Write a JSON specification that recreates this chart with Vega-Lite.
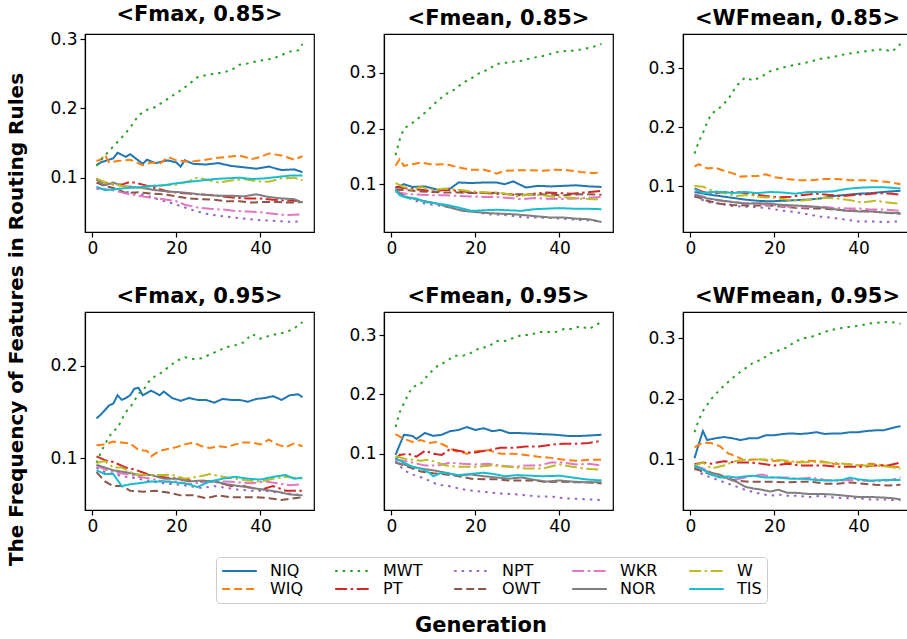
{
"$schema":"https://vega.github.io/schema/vega-lite/v6.json",
"background":"white",
"padding":{"left":7,"top":3,"right":0,"bottom":3},
"title":{"text":"The Frequency of Features in Routing Rules","orient":"left","fontSize":20,"fontWeight":"bold","font":"DejaVu Sans","color":"black","anchor":"middle","offset":22},
"config":{
"font":"DejaVu Sans",
"view":{"stroke":"black","strokeWidth":1.2},
"axis":{"grid":false,"domainColor":"black","domainWidth":1.2,"tickColor":"black","tickWidth":1.2,"tickSize":5,"labelFontSize":17,"labelColor":"black","labelPadding":3,"labelFont":"DejaVu Sans"},
"legend":{"orient":"none","legendX":131,"legendY":523,"direction":"horizontal","columns":5,"columnPadding":30,"rowPadding":0,"clipHeight":18,"strokeColor":"#cccccc","cornerRadius":4,"padding":5,"fillColor":"white","labelFontSize":16,"labelFont":"DejaVu Sans","labelColor":"black","labelOffset":12,"symbolType":"stroke","symbolSize":1200,"symbolStrokeWidth":2}
},
"resolve":{"legend":{"color":"independent","strokeDash":"independent"}},
"data":{"values":[
{"p":"a","s":"NIQ","g":1,"v":0.118},{"p":"a","s":"NIQ","g":2,"v":0.122},{"p":"a","s":"NIQ","g":3,"v":0.124},{"p":"a","s":"NIQ","g":5,"v":0.128},{"p":"a","s":"NIQ","g":6,"v":0.136},{"p":"a","s":"NIQ","g":8,"v":0.13},{"p":"a","s":"NIQ","g":9,"v":0.134},{"p":"a","s":"NIQ","g":12,"v":0.12},{"p":"a","s":"NIQ","g":13,"v":0.126},{"p":"a","s":"NIQ","g":15,"v":0.121},{"p":"a","s":"NIQ","g":18,"v":0.125},{"p":"a","s":"NIQ","g":20,"v":0.122},{"p":"a","s":"NIQ","g":21,"v":0.116},{"p":"a","s":"NIQ","g":22,"v":0.125},{"p":"a","s":"NIQ","g":24,"v":0.12},{"p":"a","s":"NIQ","g":27,"v":0.119},{"p":"a","s":"NIQ","g":30,"v":0.121},{"p":"a","s":"NIQ","g":33,"v":0.117},{"p":"a","s":"NIQ","g":36,"v":0.115},{"p":"a","s":"NIQ","g":39,"v":0.113},{"p":"a","s":"NIQ","g":42,"v":0.116},{"p":"a","s":"NIQ","g":45,"v":0.111},{"p":"a","s":"NIQ","g":48,"v":0.112},{"p":"a","s":"NIQ","g":50,"v":0.108},
{"p":"a","s":"WIQ","g":1,"v":0.124},{"p":"a","s":"WIQ","g":2,"v":0.126},{"p":"a","s":"WIQ","g":3,"v":0.133},{"p":"a","s":"WIQ","g":4,"v":0.122},{"p":"a","s":"WIQ","g":6,"v":0.124},{"p":"a","s":"WIQ","g":9,"v":0.126},{"p":"a","s":"WIQ","g":12,"v":0.118},{"p":"a","s":"WIQ","g":14,"v":0.122},{"p":"a","s":"WIQ","g":16,"v":0.12},{"p":"a","s":"WIQ","g":18,"v":0.13},{"p":"a","s":"WIQ","g":20,"v":0.125},{"p":"a","s":"WIQ","g":23,"v":0.123},{"p":"a","s":"WIQ","g":26,"v":0.125},{"p":"a","s":"WIQ","g":29,"v":0.128},{"p":"a","s":"WIQ","g":32,"v":0.13},{"p":"a","s":"WIQ","g":35,"v":0.132},{"p":"a","s":"WIQ","g":38,"v":0.127},{"p":"a","s":"WIQ","g":40,"v":0.13},{"p":"a","s":"WIQ","g":42,"v":0.135},{"p":"a","s":"WIQ","g":45,"v":0.132},{"p":"a","s":"WIQ","g":48,"v":0.126},{"p":"a","s":"WIQ","g":50,"v":0.131},
{"p":"a","s":"MWT","g":1,"v":0.117},{"p":"a","s":"MWT","g":2,"v":0.125},{"p":"a","s":"MWT","g":3,"v":0.132},{"p":"a","s":"MWT","g":5,"v":0.145},{"p":"a","s":"MWT","g":7,"v":0.158},{"p":"a","s":"MWT","g":9,"v":0.172},{"p":"a","s":"MWT","g":11,"v":0.19},{"p":"a","s":"MWT","g":13,"v":0.198},{"p":"a","s":"MWT","g":15,"v":0.202},{"p":"a","s":"MWT","g":17,"v":0.21},{"p":"a","s":"MWT","g":19,"v":0.218},{"p":"a","s":"MWT","g":21,"v":0.226},{"p":"a","s":"MWT","g":23,"v":0.235},{"p":"a","s":"MWT","g":25,"v":0.245},{"p":"a","s":"MWT","g":27,"v":0.248},{"p":"a","s":"MWT","g":29,"v":0.25},{"p":"a","s":"MWT","g":31,"v":0.252},{"p":"a","s":"MWT","g":33,"v":0.255},{"p":"a","s":"MWT","g":35,"v":0.263},{"p":"a","s":"MWT","g":37,"v":0.265},{"p":"a","s":"MWT","g":39,"v":0.268},{"p":"a","s":"MWT","g":41,"v":0.27},{"p":"a","s":"MWT","g":43,"v":0.272},{"p":"a","s":"MWT","g":45,"v":0.277},{"p":"a","s":"MWT","g":47,"v":0.282},{"p":"a","s":"MWT","g":49,"v":0.284},{"p":"a","s":"MWT","g":50,"v":0.293},
{"p":"a","s":"PT","g":1,"v":0.097},{"p":"a","s":"PT","g":3,"v":0.093},{"p":"a","s":"PT","g":5,"v":0.09},{"p":"a","s":"PT","g":7,"v":0.09},{"p":"a","s":"PT","g":9,"v":0.094},{"p":"a","s":"PT","g":12,"v":0.09},{"p":"a","s":"PT","g":15,"v":0.085},{"p":"a","s":"PT","g":18,"v":0.08},{"p":"a","s":"PT","g":21,"v":0.078},{"p":"a","s":"PT","g":25,"v":0.076},{"p":"a","s":"PT","g":28,"v":0.075},{"p":"a","s":"PT","g":31,"v":0.073},{"p":"a","s":"PT","g":34,"v":0.071},{"p":"a","s":"PT","g":37,"v":0.07},{"p":"a","s":"PT","g":40,"v":0.07},{"p":"a","s":"PT","g":43,"v":0.068},{"p":"a","s":"PT","g":46,"v":0.067},{"p":"a","s":"PT","g":50,"v":0.066},
{"p":"a","s":"NPT","g":1,"v":0.084},{"p":"a","s":"NPT","g":4,"v":0.083},{"p":"a","s":"NPT","g":7,"v":0.08},{"p":"a","s":"NPT","g":10,"v":0.078},{"p":"a","s":"NPT","g":13,"v":0.074},{"p":"a","s":"NPT","g":16,"v":0.068},{"p":"a","s":"NPT","g":19,"v":0.063},{"p":"a","s":"NPT","g":22,"v":0.057},{"p":"a","s":"NPT","g":24,"v":0.053},{"p":"a","s":"NPT","g":27,"v":0.048},{"p":"a","s":"NPT","g":30,"v":0.045},{"p":"a","s":"NPT","g":33,"v":0.043},{"p":"a","s":"NPT","g":36,"v":0.041},{"p":"a","s":"NPT","g":39,"v":0.039},{"p":"a","s":"NPT","g":42,"v":0.038},{"p":"a","s":"NPT","g":45,"v":0.037},{"p":"a","s":"NPT","g":48,"v":0.036},{"p":"a","s":"NPT","g":50,"v":0.038},
{"p":"a","s":"OWT","g":1,"v":0.093},{"p":"a","s":"OWT","g":3,"v":0.088},{"p":"a","s":"OWT","g":5,"v":0.085},{"p":"a","s":"OWT","g":8,"v":0.078},{"p":"a","s":"OWT","g":11,"v":0.079},{"p":"a","s":"OWT","g":14,"v":0.077},{"p":"a","s":"OWT","g":17,"v":0.076},{"p":"a","s":"OWT","g":20,"v":0.073},{"p":"a","s":"OWT","g":23,"v":0.07},{"p":"a","s":"OWT","g":26,"v":0.069},{"p":"a","s":"OWT","g":29,"v":0.068},{"p":"a","s":"OWT","g":32,"v":0.066},{"p":"a","s":"OWT","g":35,"v":0.066},{"p":"a","s":"OWT","g":38,"v":0.064},{"p":"a","s":"OWT","g":41,"v":0.065},{"p":"a","s":"OWT","g":44,"v":0.065},{"p":"a","s":"OWT","g":47,"v":0.064},{"p":"a","s":"OWT","g":50,"v":0.065},
{"p":"a","s":"WKR","g":1,"v":0.085},{"p":"a","s":"WKR","g":3,"v":0.083},{"p":"a","s":"WKR","g":5,"v":0.082},{"p":"a","s":"WKR","g":8,"v":0.077},{"p":"a","s":"WKR","g":11,"v":0.074},{"p":"a","s":"WKR","g":14,"v":0.071},{"p":"a","s":"WKR","g":17,"v":0.069},{"p":"a","s":"WKR","g":20,"v":0.066},{"p":"a","s":"WKR","g":22,"v":0.061},{"p":"a","s":"WKR","g":25,"v":0.057},{"p":"a","s":"WKR","g":28,"v":0.055},{"p":"a","s":"WKR","g":31,"v":0.054},{"p":"a","s":"WKR","g":34,"v":0.052},{"p":"a","s":"WKR","g":37,"v":0.051},{"p":"a","s":"WKR","g":40,"v":0.05},{"p":"a","s":"WKR","g":43,"v":0.048},{"p":"a","s":"WKR","g":46,"v":0.046},{"p":"a","s":"WKR","g":50,"v":0.047},
{"p":"a","s":"NOR","g":1,"v":0.099},{"p":"a","s":"NOR","g":2,"v":0.092},{"p":"a","s":"NOR","g":3,"v":0.089},{"p":"a","s":"NOR","g":5,"v":0.093},{"p":"a","s":"NOR","g":7,"v":0.088},{"p":"a","s":"NOR","g":9,"v":0.087},{"p":"a","s":"NOR","g":12,"v":0.085},{"p":"a","s":"NOR","g":15,"v":0.082},{"p":"a","s":"NOR","g":18,"v":0.08},{"p":"a","s":"NOR","g":21,"v":0.079},{"p":"a","s":"NOR","g":24,"v":0.077},{"p":"a","s":"NOR","g":27,"v":0.075},{"p":"a","s":"NOR","g":30,"v":0.074},{"p":"a","s":"NOR","g":33,"v":0.074},{"p":"a","s":"NOR","g":36,"v":0.073},{"p":"a","s":"NOR","g":39,"v":0.076},{"p":"a","s":"NOR","g":42,"v":0.072},{"p":"a","s":"NOR","g":45,"v":0.07},{"p":"a","s":"NOR","g":48,"v":0.069},{"p":"a","s":"NOR","g":50,"v":0.064},
{"p":"a","s":"W","g":1,"v":0.099},{"p":"a","s":"W","g":3,"v":0.093},{"p":"a","s":"W","g":5,"v":0.091},{"p":"a","s":"W","g":8,"v":0.087},{"p":"a","s":"W","g":11,"v":0.085},{"p":"a","s":"W","g":14,"v":0.088},{"p":"a","s":"W","g":17,"v":0.089},{"p":"a","s":"W","g":20,"v":0.09},{"p":"a","s":"W","g":23,"v":0.095},{"p":"a","s":"W","g":25,"v":0.1},{"p":"a","s":"W","g":28,"v":0.096},{"p":"a","s":"W","g":30,"v":0.093},{"p":"a","s":"W","g":33,"v":0.096},{"p":"a","s":"W","g":36,"v":0.098},{"p":"a","s":"W","g":39,"v":0.095},{"p":"a","s":"W","g":42,"v":0.094},{"p":"a","s":"W","g":45,"v":0.099},{"p":"a","s":"W","g":48,"v":0.1},{"p":"a","s":"W","g":50,"v":0.096},
{"p":"a","s":"TIS","g":1,"v":0.087},{"p":"a","s":"TIS","g":3,"v":0.082},{"p":"a","s":"TIS","g":5,"v":0.083},{"p":"a","s":"TIS","g":8,"v":0.085},{"p":"a","s":"TIS","g":11,"v":0.086},{"p":"a","s":"TIS","g":14,"v":0.088},{"p":"a","s":"TIS","g":17,"v":0.089},{"p":"a","s":"TIS","g":20,"v":0.092},{"p":"a","s":"TIS","g":23,"v":0.094},{"p":"a","s":"TIS","g":26,"v":0.096},{"p":"a","s":"TIS","g":29,"v":0.098},{"p":"a","s":"TIS","g":32,"v":0.099},{"p":"a","s":"TIS","g":35,"v":0.1},{"p":"a","s":"TIS","g":38,"v":0.098},{"p":"a","s":"TIS","g":41,"v":0.099},{"p":"a","s":"TIS","g":44,"v":0.101},{"p":"a","s":"TIS","g":47,"v":0.103},{"p":"a","s":"TIS","g":50,"v":0.103},
{"p":"b","s":"NIQ","g":1,"v":0.093},{"p":"b","s":"NIQ","g":3,"v":0.1},{"p":"b","s":"NIQ","g":5,"v":0.095},{"p":"b","s":"NIQ","g":8,"v":0.096},{"p":"b","s":"NIQ","g":11,"v":0.09},{"p":"b","s":"NIQ","g":14,"v":0.092},{"p":"b","s":"NIQ","g":16,"v":0.103},{"p":"b","s":"NIQ","g":19,"v":0.102},{"p":"b","s":"NIQ","g":22,"v":0.103},{"p":"b","s":"NIQ","g":25,"v":0.103},{"p":"b","s":"NIQ","g":27,"v":0.1},{"p":"b","s":"NIQ","g":29,"v":0.105},{"p":"b","s":"NIQ","g":32,"v":0.094},{"p":"b","s":"NIQ","g":35,"v":0.097},{"p":"b","s":"NIQ","g":38,"v":0.096},{"p":"b","s":"NIQ","g":41,"v":0.097},{"p":"b","s":"NIQ","g":44,"v":0.098},{"p":"b","s":"NIQ","g":47,"v":0.096},{"p":"b","s":"NIQ","g":50,"v":0.095},
{"p":"b","s":"WIQ","g":1,"v":0.133},{"p":"b","s":"WIQ","g":2,"v":0.145},{"p":"b","s":"WIQ","g":3,"v":0.133},{"p":"b","s":"WIQ","g":5,"v":0.136},{"p":"b","s":"WIQ","g":7,"v":0.139},{"p":"b","s":"WIQ","g":10,"v":0.135},{"p":"b","s":"WIQ","g":13,"v":0.136},{"p":"b","s":"WIQ","g":16,"v":0.13},{"p":"b","s":"WIQ","g":19,"v":0.126},{"p":"b","s":"WIQ","g":22,"v":0.126},{"p":"b","s":"WIQ","g":24,"v":0.122},{"p":"b","s":"WIQ","g":25,"v":0.119},{"p":"b","s":"WIQ","g":27,"v":0.124},{"p":"b","s":"WIQ","g":30,"v":0.125},{"p":"b","s":"WIQ","g":33,"v":0.125},{"p":"b","s":"WIQ","g":36,"v":0.124},{"p":"b","s":"WIQ","g":39,"v":0.126},{"p":"b","s":"WIQ","g":42,"v":0.125},{"p":"b","s":"WIQ","g":45,"v":0.122},{"p":"b","s":"WIQ","g":48,"v":0.12},{"p":"b","s":"WIQ","g":50,"v":0.121},
{"p":"b","s":"MWT","g":1,"v":0.152},{"p":"b","s":"MWT","g":2,"v":0.18},{"p":"b","s":"MWT","g":3,"v":0.2},{"p":"b","s":"MWT","g":5,"v":0.21},{"p":"b","s":"MWT","g":7,"v":0.222},{"p":"b","s":"MWT","g":9,"v":0.235},{"p":"b","s":"MWT","g":11,"v":0.25},{"p":"b","s":"MWT","g":13,"v":0.262},{"p":"b","s":"MWT","g":15,"v":0.27},{"p":"b","s":"MWT","g":17,"v":0.282},{"p":"b","s":"MWT","g":19,"v":0.29},{"p":"b","s":"MWT","g":21,"v":0.3},{"p":"b","s":"MWT","g":23,"v":0.306},{"p":"b","s":"MWT","g":25,"v":0.316},{"p":"b","s":"MWT","g":27,"v":0.318},{"p":"b","s":"MWT","g":29,"v":0.32},{"p":"b","s":"MWT","g":31,"v":0.322},{"p":"b","s":"MWT","g":33,"v":0.326},{"p":"b","s":"MWT","g":35,"v":0.329},{"p":"b","s":"MWT","g":37,"v":0.332},{"p":"b","s":"MWT","g":39,"v":0.337},{"p":"b","s":"MWT","g":41,"v":0.339},{"p":"b","s":"MWT","g":43,"v":0.34},{"p":"b","s":"MWT","g":45,"v":0.342},{"p":"b","s":"MWT","g":47,"v":0.345},{"p":"b","s":"MWT","g":49,"v":0.349},{"p":"b","s":"MWT","g":50,"v":0.352},
{"p":"b","s":"PT","g":1,"v":0.095},{"p":"b","s":"PT","g":4,"v":0.092},{"p":"b","s":"PT","g":7,"v":0.09},{"p":"b","s":"PT","g":10,"v":0.087},{"p":"b","s":"PT","g":13,"v":0.09},{"p":"b","s":"PT","g":16,"v":0.088},{"p":"b","s":"PT","g":19,"v":0.085},{"p":"b","s":"PT","g":22,"v":0.084},{"p":"b","s":"PT","g":25,"v":0.083},{"p":"b","s":"PT","g":28,"v":0.082},{"p":"b","s":"PT","g":31,"v":0.08},{"p":"b","s":"PT","g":34,"v":0.083},{"p":"b","s":"PT","g":37,"v":0.085},{"p":"b","s":"PT","g":40,"v":0.084},{"p":"b","s":"PT","g":43,"v":0.083},{"p":"b","s":"PT","g":46,"v":0.085},{"p":"b","s":"PT","g":50,"v":0.088},
{"p":"b","s":"NPT","g":1,"v":0.088},{"p":"b","s":"NPT","g":3,"v":0.08},{"p":"b","s":"NPT","g":5,"v":0.072},{"p":"b","s":"NPT","g":8,"v":0.065},{"p":"b","s":"NPT","g":11,"v":0.062},{"p":"b","s":"NPT","g":14,"v":0.058},{"p":"b","s":"NPT","g":17,"v":0.053},{"p":"b","s":"NPT","g":20,"v":0.05},{"p":"b","s":"NPT","g":23,"v":0.046},{"p":"b","s":"NPT","g":26,"v":0.045},{"p":"b","s":"NPT","g":29,"v":0.043},{"p":"b","s":"NPT","g":32,"v":0.04},{"p":"b","s":"NPT","g":35,"v":0.04},{"p":"b","s":"NPT","g":38,"v":0.039},{"p":"b","s":"NPT","g":41,"v":0.038},{"p":"b","s":"NPT","g":44,"v":0.036},{"p":"b","s":"NPT","g":47,"v":0.035},{"p":"b","s":"NPT","g":50,"v":0.033},
{"p":"b","s":"OWT","g":1,"v":0.09},{"p":"b","s":"OWT","g":4,"v":0.089},{"p":"b","s":"OWT","g":7,"v":0.087},{"p":"b","s":"OWT","g":10,"v":0.086},{"p":"b","s":"OWT","g":13,"v":0.085},{"p":"b","s":"OWT","g":16,"v":0.085},{"p":"b","s":"OWT","g":19,"v":0.084},{"p":"b","s":"OWT","g":22,"v":0.085},{"p":"b","s":"OWT","g":25,"v":0.084},{"p":"b","s":"OWT","g":28,"v":0.082},{"p":"b","s":"OWT","g":31,"v":0.082},{"p":"b","s":"OWT","g":34,"v":0.081},{"p":"b","s":"OWT","g":37,"v":0.082},{"p":"b","s":"OWT","g":40,"v":0.08},{"p":"b","s":"OWT","g":43,"v":0.081},{"p":"b","s":"OWT","g":46,"v":0.082},{"p":"b","s":"OWT","g":50,"v":0.081},
{"p":"b","s":"WKR","g":1,"v":0.086},{"p":"b","s":"WKR","g":4,"v":0.082},{"p":"b","s":"WKR","g":7,"v":0.081},{"p":"b","s":"WKR","g":10,"v":0.08},{"p":"b","s":"WKR","g":13,"v":0.08},{"p":"b","s":"WKR","g":16,"v":0.079},{"p":"b","s":"WKR","g":19,"v":0.078},{"p":"b","s":"WKR","g":22,"v":0.077},{"p":"b","s":"WKR","g":25,"v":0.077},{"p":"b","s":"WKR","g":28,"v":0.075},{"p":"b","s":"WKR","g":31,"v":0.073},{"p":"b","s":"WKR","g":34,"v":0.075},{"p":"b","s":"WKR","g":37,"v":0.074},{"p":"b","s":"WKR","g":40,"v":0.073},{"p":"b","s":"WKR","g":43,"v":0.074},{"p":"b","s":"WKR","g":46,"v":0.075},{"p":"b","s":"WKR","g":50,"v":0.077},
{"p":"b","s":"NOR","g":1,"v":0.09},{"p":"b","s":"NOR","g":3,"v":0.078},{"p":"b","s":"NOR","g":5,"v":0.075},{"p":"b","s":"NOR","g":7,"v":0.071},{"p":"b","s":"NOR","g":9,"v":0.068},{"p":"b","s":"NOR","g":11,"v":0.065},{"p":"b","s":"NOR","g":13,"v":0.06},{"p":"b","s":"NOR","g":15,"v":0.056},{"p":"b","s":"NOR","g":17,"v":0.052},{"p":"b","s":"NOR","g":20,"v":0.05},{"p":"b","s":"NOR","g":23,"v":0.048},{"p":"b","s":"NOR","g":26,"v":0.047},{"p":"b","s":"NOR","g":29,"v":0.046},{"p":"b","s":"NOR","g":32,"v":0.044},{"p":"b","s":"NOR","g":35,"v":0.042},{"p":"b","s":"NOR","g":38,"v":0.04},{"p":"b","s":"NOR","g":41,"v":0.04},{"p":"b","s":"NOR","g":44,"v":0.038},{"p":"b","s":"NOR","g":47,"v":0.037},{"p":"b","s":"NOR","g":50,"v":0.032},
{"p":"b","s":"W","g":1,"v":0.102},{"p":"b","s":"W","g":3,"v":0.095},{"p":"b","s":"W","g":5,"v":0.09},{"p":"b","s":"W","g":7,"v":0.095},{"p":"b","s":"W","g":10,"v":0.09},{"p":"b","s":"W","g":13,"v":0.092},{"p":"b","s":"W","g":16,"v":0.09},{"p":"b","s":"W","g":19,"v":0.087},{"p":"b","s":"W","g":22,"v":0.085},{"p":"b","s":"W","g":25,"v":0.085},{"p":"b","s":"W","g":28,"v":0.082},{"p":"b","s":"W","g":30,"v":0.078},{"p":"b","s":"W","g":33,"v":0.082},{"p":"b","s":"W","g":36,"v":0.08},{"p":"b","s":"W","g":39,"v":0.077},{"p":"b","s":"W","g":42,"v":0.076},{"p":"b","s":"W","g":45,"v":0.074},{"p":"b","s":"W","g":48,"v":0.073},{"p":"b","s":"W","g":50,"v":0.073},
{"p":"b","s":"TIS","g":1,"v":0.09},{"p":"b","s":"TIS","g":2,"v":0.08},{"p":"b","s":"TIS","g":4,"v":0.075},{"p":"b","s":"TIS","g":6,"v":0.074},{"p":"b","s":"TIS","g":8,"v":0.068},{"p":"b","s":"TIS","g":10,"v":0.066},{"p":"b","s":"TIS","g":13,"v":0.063},{"p":"b","s":"TIS","g":16,"v":0.058},{"p":"b","s":"TIS","g":19,"v":0.052},{"p":"b","s":"TIS","g":22,"v":0.053},{"p":"b","s":"TIS","g":25,"v":0.054},{"p":"b","s":"TIS","g":28,"v":0.053},{"p":"b","s":"TIS","g":31,"v":0.052},{"p":"b","s":"TIS","g":34,"v":0.055},{"p":"b","s":"TIS","g":37,"v":0.056},{"p":"b","s":"TIS","g":40,"v":0.057},{"p":"b","s":"TIS","g":43,"v":0.056},{"p":"b","s":"TIS","g":46,"v":0.056},{"p":"b","s":"TIS","g":50,"v":0.055},
{"p":"c","s":"NIQ","g":1,"v":0.09},{"p":"c","s":"NIQ","g":4,"v":0.086},{"p":"c","s":"NIQ","g":7,"v":0.083},{"p":"c","s":"NIQ","g":10,"v":0.08},{"p":"c","s":"NIQ","g":13,"v":0.077},{"p":"c","s":"NIQ","g":16,"v":0.075},{"p":"c","s":"NIQ","g":19,"v":0.074},{"p":"c","s":"NIQ","g":22,"v":0.075},{"p":"c","s":"NIQ","g":25,"v":0.076},{"p":"c","s":"NIQ","g":28,"v":0.077},{"p":"c","s":"NIQ","g":31,"v":0.079},{"p":"c","s":"NIQ","g":34,"v":0.083},{"p":"c","s":"NIQ","g":37,"v":0.085},{"p":"c","s":"NIQ","g":40,"v":0.087},{"p":"c","s":"NIQ","g":43,"v":0.088},{"p":"c","s":"NIQ","g":46,"v":0.09},{"p":"c","s":"NIQ","g":50,"v":0.092},
{"p":"c","s":"WIQ","g":1,"v":0.133},{"p":"c","s":"WIQ","g":2,"v":0.137},{"p":"c","s":"WIQ","g":4,"v":0.13},{"p":"c","s":"WIQ","g":6,"v":0.131},{"p":"c","s":"WIQ","g":8,"v":0.126},{"p":"c","s":"WIQ","g":10,"v":0.122},{"p":"c","s":"WIQ","g":12,"v":0.116},{"p":"c","s":"WIQ","g":14,"v":0.117},{"p":"c","s":"WIQ","g":16,"v":0.117},{"p":"c","s":"WIQ","g":18,"v":0.12},{"p":"c","s":"WIQ","g":20,"v":0.115},{"p":"c","s":"WIQ","g":23,"v":0.112},{"p":"c","s":"WIQ","g":26,"v":0.11},{"p":"c","s":"WIQ","g":29,"v":0.11},{"p":"c","s":"WIQ","g":32,"v":0.112},{"p":"c","s":"WIQ","g":35,"v":0.112},{"p":"c","s":"WIQ","g":38,"v":0.11},{"p":"c","s":"WIQ","g":41,"v":0.11},{"p":"c","s":"WIQ","g":44,"v":0.109},{"p":"c","s":"WIQ","g":47,"v":0.107},{"p":"c","s":"WIQ","g":50,"v":0.103},
{"p":"c","s":"MWT","g":1,"v":0.155},{"p":"c","s":"MWT","g":2,"v":0.175},{"p":"c","s":"MWT","g":3,"v":0.19},{"p":"c","s":"MWT","g":4,"v":0.208},{"p":"c","s":"MWT","g":5,"v":0.222},{"p":"c","s":"MWT","g":7,"v":0.233},{"p":"c","s":"MWT","g":9,"v":0.247},{"p":"c","s":"MWT","g":11,"v":0.27},{"p":"c","s":"MWT","g":13,"v":0.284},{"p":"c","s":"MWT","g":15,"v":0.279},{"p":"c","s":"MWT","g":17,"v":0.286},{"p":"c","s":"MWT","g":19,"v":0.295},{"p":"c","s":"MWT","g":22,"v":0.301},{"p":"c","s":"MWT","g":25,"v":0.306},{"p":"c","s":"MWT","g":28,"v":0.31},{"p":"c","s":"MWT","g":31,"v":0.316},{"p":"c","s":"MWT","g":34,"v":0.319},{"p":"c","s":"MWT","g":37,"v":0.324},{"p":"c","s":"MWT","g":40,"v":0.327},{"p":"c","s":"MWT","g":43,"v":0.33},{"p":"c","s":"MWT","g":46,"v":0.332},{"p":"c","s":"MWT","g":48,"v":0.328},{"p":"c","s":"MWT","g":50,"v":0.341},
{"p":"c","s":"PT","g":1,"v":0.096},{"p":"c","s":"PT","g":3,"v":0.09},{"p":"c","s":"PT","g":6,"v":0.088},{"p":"c","s":"PT","g":9,"v":0.09},{"p":"c","s":"PT","g":12,"v":0.089},{"p":"c","s":"PT","g":15,"v":0.086},{"p":"c","s":"PT","g":18,"v":0.083},{"p":"c","s":"PT","g":21,"v":0.081},{"p":"c","s":"PT","g":24,"v":0.082},{"p":"c","s":"PT","g":27,"v":0.085},{"p":"c","s":"PT","g":30,"v":0.087},{"p":"c","s":"PT","g":33,"v":0.085},{"p":"c","s":"PT","g":36,"v":0.083},{"p":"c","s":"PT","g":39,"v":0.085},{"p":"c","s":"PT","g":42,"v":0.086},{"p":"c","s":"PT","g":45,"v":0.088},{"p":"c","s":"PT","g":48,"v":0.087},{"p":"c","s":"PT","g":50,"v":0.085},
{"p":"c","s":"NPT","g":1,"v":0.082},{"p":"c","s":"NPT","g":4,"v":0.073},{"p":"c","s":"NPT","g":7,"v":0.07},{"p":"c","s":"NPT","g":10,"v":0.066},{"p":"c","s":"NPT","g":13,"v":0.065},{"p":"c","s":"NPT","g":16,"v":0.064},{"p":"c","s":"NPT","g":19,"v":0.062},{"p":"c","s":"NPT","g":22,"v":0.058},{"p":"c","s":"NPT","g":25,"v":0.056},{"p":"c","s":"NPT","g":28,"v":0.052},{"p":"c","s":"NPT","g":31,"v":0.048},{"p":"c","s":"NPT","g":34,"v":0.046},{"p":"c","s":"NPT","g":37,"v":0.043},{"p":"c","s":"NPT","g":40,"v":0.04},{"p":"c","s":"NPT","g":43,"v":0.04},{"p":"c","s":"NPT","g":46,"v":0.039},{"p":"c","s":"NPT","g":50,"v":0.04},
{"p":"c","s":"OWT","g":1,"v":0.083},{"p":"c","s":"OWT","g":4,"v":0.075},{"p":"c","s":"OWT","g":7,"v":0.07},{"p":"c","s":"OWT","g":10,"v":0.068},{"p":"c","s":"OWT","g":13,"v":0.067},{"p":"c","s":"OWT","g":16,"v":0.067},{"p":"c","s":"OWT","g":19,"v":0.067},{"p":"c","s":"OWT","g":22,"v":0.065},{"p":"c","s":"OWT","g":25,"v":0.063},{"p":"c","s":"OWT","g":28,"v":0.062},{"p":"c","s":"OWT","g":31,"v":0.062},{"p":"c","s":"OWT","g":34,"v":0.06},{"p":"c","s":"OWT","g":37,"v":0.059},{"p":"c","s":"OWT","g":40,"v":0.058},{"p":"c","s":"OWT","g":43,"v":0.057},{"p":"c","s":"OWT","g":46,"v":0.055},{"p":"c","s":"OWT","g":50,"v":0.053},
{"p":"c","s":"WKR","g":1,"v":0.086},{"p":"c","s":"WKR","g":4,"v":0.08},{"p":"c","s":"WKR","g":7,"v":0.075},{"p":"c","s":"WKR","g":10,"v":0.073},{"p":"c","s":"WKR","g":13,"v":0.071},{"p":"c","s":"WKR","g":16,"v":0.07},{"p":"c","s":"WKR","g":19,"v":0.068},{"p":"c","s":"WKR","g":22,"v":0.066},{"p":"c","s":"WKR","g":25,"v":0.064},{"p":"c","s":"WKR","g":28,"v":0.064},{"p":"c","s":"WKR","g":31,"v":0.065},{"p":"c","s":"WKR","g":34,"v":0.063},{"p":"c","s":"WKR","g":37,"v":0.062},{"p":"c","s":"WKR","g":40,"v":0.062},{"p":"c","s":"WKR","g":43,"v":0.06},{"p":"c","s":"WKR","g":46,"v":0.06},{"p":"c","s":"WKR","g":50,"v":0.058},
{"p":"c","s":"NOR","g":1,"v":0.085},{"p":"c","s":"NOR","g":4,"v":0.079},{"p":"c","s":"NOR","g":7,"v":0.076},{"p":"c","s":"NOR","g":10,"v":0.073},{"p":"c","s":"NOR","g":13,"v":0.07},{"p":"c","s":"NOR","g":16,"v":0.071},{"p":"c","s":"NOR","g":19,"v":0.07},{"p":"c","s":"NOR","g":22,"v":0.068},{"p":"c","s":"NOR","g":25,"v":0.067},{"p":"c","s":"NOR","g":28,"v":0.066},{"p":"c","s":"NOR","g":31,"v":0.064},{"p":"c","s":"NOR","g":34,"v":0.061},{"p":"c","s":"NOR","g":37,"v":0.058},{"p":"c","s":"NOR","g":40,"v":0.057},{"p":"c","s":"NOR","g":43,"v":0.057},{"p":"c","s":"NOR","g":46,"v":0.055},{"p":"c","s":"NOR","g":50,"v":0.054},
{"p":"c","s":"W","g":1,"v":0.1},{"p":"c","s":"W","g":3,"v":0.099},{"p":"c","s":"W","g":5,"v":0.093},{"p":"c","s":"W","g":8,"v":0.088},{"p":"c","s":"W","g":11,"v":0.083},{"p":"c","s":"W","g":14,"v":0.085},{"p":"c","s":"W","g":17,"v":0.081},{"p":"c","s":"W","g":20,"v":0.08},{"p":"c","s":"W","g":23,"v":0.077},{"p":"c","s":"W","g":26,"v":0.075},{"p":"c","s":"W","g":29,"v":0.077},{"p":"c","s":"W","g":32,"v":0.08},{"p":"c","s":"W","g":35,"v":0.079},{"p":"c","s":"W","g":38,"v":0.076},{"p":"c","s":"W","g":41,"v":0.072},{"p":"c","s":"W","g":44,"v":0.075},{"p":"c","s":"W","g":47,"v":0.072},{"p":"c","s":"W","g":50,"v":0.07},
{"p":"c","s":"TIS","g":1,"v":0.095},{"p":"c","s":"TIS","g":3,"v":0.088},{"p":"c","s":"TIS","g":5,"v":0.09},{"p":"c","s":"TIS","g":8,"v":0.09},{"p":"c","s":"TIS","g":10,"v":0.088},{"p":"c","s":"TIS","g":13,"v":0.09},{"p":"c","s":"TIS","g":16,"v":0.088},{"p":"c","s":"TIS","g":19,"v":0.09},{"p":"c","s":"TIS","g":22,"v":0.089},{"p":"c","s":"TIS","g":25,"v":0.087},{"p":"c","s":"TIS","g":28,"v":0.09},{"p":"c","s":"TIS","g":31,"v":0.09},{"p":"c","s":"TIS","g":34,"v":0.091},{"p":"c","s":"TIS","g":37,"v":0.095},{"p":"c","s":"TIS","g":40,"v":0.097},{"p":"c","s":"TIS","g":43,"v":0.098},{"p":"c","s":"TIS","g":46,"v":0.098},{"p":"c","s":"TIS","g":50,"v":0.096},
{"p":"d","s":"NIQ","g":1,"v":0.143},{"p":"d","s":"NIQ","g":2,"v":0.147},{"p":"d","s":"NIQ","g":3,"v":0.152},{"p":"d","s":"NIQ","g":4,"v":0.157},{"p":"d","s":"NIQ","g":5,"v":0.159},{"p":"d","s":"NIQ","g":6,"v":0.168},{"p":"d","s":"NIQ","g":7,"v":0.163},{"p":"d","s":"NIQ","g":8,"v":0.165},{"p":"d","s":"NIQ","g":9,"v":0.168},{"p":"d","s":"NIQ","g":10,"v":0.175},{"p":"d","s":"NIQ","g":11,"v":0.176},{"p":"d","s":"NIQ","g":12,"v":0.168},{"p":"d","s":"NIQ","g":14,"v":0.173},{"p":"d","s":"NIQ","g":16,"v":0.168},{"p":"d","s":"NIQ","g":17,"v":0.172},{"p":"d","s":"NIQ","g":19,"v":0.165},{"p":"d","s":"NIQ","g":21,"v":0.162},{"p":"d","s":"NIQ","g":23,"v":0.165},{"p":"d","s":"NIQ","g":25,"v":0.163},{"p":"d","s":"NIQ","g":27,"v":0.163},{"p":"d","s":"NIQ","g":29,"v":0.16},{"p":"d","s":"NIQ","g":31,"v":0.164},{"p":"d","s":"NIQ","g":33,"v":0.163},{"p":"d","s":"NIQ","g":35,"v":0.163},{"p":"d","s":"NIQ","g":37,"v":0.161},{"p":"d","s":"NIQ","g":39,"v":0.164},{"p":"d","s":"NIQ","g":41,"v":0.165},{"p":"d","s":"NIQ","g":43,"v":0.167},{"p":"d","s":"NIQ","g":45,"v":0.163},{"p":"d","s":"NIQ","g":47,"v":0.168},{"p":"d","s":"NIQ","g":49,"v":0.169},{"p":"d","s":"NIQ","g":50,"v":0.166},
{"p":"d","s":"WIQ","g":1,"v":0.114},{"p":"d","s":"WIQ","g":3,"v":0.115},{"p":"d","s":"WIQ","g":5,"v":0.118},{"p":"d","s":"WIQ","g":7,"v":0.117},{"p":"d","s":"WIQ","g":9,"v":0.116},{"p":"d","s":"WIQ","g":11,"v":0.109},{"p":"d","s":"WIQ","g":13,"v":0.108},{"p":"d","s":"WIQ","g":14,"v":0.102},{"p":"d","s":"WIQ","g":16,"v":0.108},{"p":"d","s":"WIQ","g":18,"v":0.11},{"p":"d","s":"WIQ","g":20,"v":0.112},{"p":"d","s":"WIQ","g":22,"v":0.115},{"p":"d","s":"WIQ","g":24,"v":0.117},{"p":"d","s":"WIQ","g":26,"v":0.113},{"p":"d","s":"WIQ","g":28,"v":0.111},{"p":"d","s":"WIQ","g":30,"v":0.113},{"p":"d","s":"WIQ","g":32,"v":0.112},{"p":"d","s":"WIQ","g":34,"v":0.115},{"p":"d","s":"WIQ","g":36,"v":0.117},{"p":"d","s":"WIQ","g":38,"v":0.117},{"p":"d","s":"WIQ","g":40,"v":0.115},{"p":"d","s":"WIQ","g":42,"v":0.12},{"p":"d","s":"WIQ","g":44,"v":0.115},{"p":"d","s":"WIQ","g":46,"v":0.112},{"p":"d","s":"WIQ","g":48,"v":0.116},{"p":"d","s":"WIQ","g":50,"v":0.113},
{"p":"d","s":"MWT","g":1,"v":0.095},{"p":"d","s":"MWT","g":2,"v":0.106},{"p":"d","s":"MWT","g":3,"v":0.115},{"p":"d","s":"MWT","g":4,"v":0.123},{"p":"d","s":"MWT","g":5,"v":0.13},{"p":"d","s":"MWT","g":6,"v":0.132},{"p":"d","s":"MWT","g":7,"v":0.142},{"p":"d","s":"MWT","g":8,"v":0.15},{"p":"d","s":"MWT","g":9,"v":0.155},{"p":"d","s":"MWT","g":10,"v":0.162},{"p":"d","s":"MWT","g":11,"v":0.17},{"p":"d","s":"MWT","g":12,"v":0.172},{"p":"d","s":"MWT","g":13,"v":0.18},{"p":"d","s":"MWT","g":14,"v":0.186},{"p":"d","s":"MWT","g":16,"v":0.191},{"p":"d","s":"MWT","g":18,"v":0.198},{"p":"d","s":"MWT","g":20,"v":0.205},{"p":"d","s":"MWT","g":22,"v":0.209},{"p":"d","s":"MWT","g":24,"v":0.207},{"p":"d","s":"MWT","g":26,"v":0.208},{"p":"d","s":"MWT","g":28,"v":0.212},{"p":"d","s":"MWT","g":30,"v":0.216},{"p":"d","s":"MWT","g":32,"v":0.22},{"p":"d","s":"MWT","g":34,"v":0.222},{"p":"d","s":"MWT","g":36,"v":0.225},{"p":"d","s":"MWT","g":38,"v":0.234},{"p":"d","s":"MWT","g":40,"v":0.229},{"p":"d","s":"MWT","g":42,"v":0.232},{"p":"d","s":"MWT","g":44,"v":0.234},{"p":"d","s":"MWT","g":46,"v":0.236},{"p":"d","s":"MWT","g":48,"v":0.24},{"p":"d","s":"MWT","g":50,"v":0.247},
{"p":"d","s":"PT","g":1,"v":0.102},{"p":"d","s":"PT","g":3,"v":0.098},{"p":"d","s":"PT","g":5,"v":0.096},{"p":"d","s":"PT","g":8,"v":0.09},{"p":"d","s":"PT","g":10,"v":0.088},{"p":"d","s":"PT","g":13,"v":0.083},{"p":"d","s":"PT","g":16,"v":0.08},{"p":"d","s":"PT","g":20,"v":0.078},{"p":"d","s":"PT","g":25,"v":0.075},{"p":"d","s":"PT","g":30,"v":0.074},{"p":"d","s":"PT","g":33,"v":0.07},{"p":"d","s":"PT","g":36,"v":0.07},{"p":"d","s":"PT","g":40,"v":0.066},{"p":"d","s":"PT","g":43,"v":0.07},{"p":"d","s":"PT","g":46,"v":0.065},{"p":"d","s":"PT","g":50,"v":0.065},
{"p":"d","s":"NPT","g":1,"v":0.09},{"p":"d","s":"NPT","g":3,"v":0.085},{"p":"d","s":"NPT","g":5,"v":0.083},{"p":"d","s":"NPT","g":8,"v":0.08},{"p":"d","s":"NPT","g":11,"v":0.078},{"p":"d","s":"NPT","g":14,"v":0.075},{"p":"d","s":"NPT","g":17,"v":0.073},{"p":"d","s":"NPT","g":20,"v":0.072},{"p":"d","s":"NPT","g":23,"v":0.07},{"p":"d","s":"NPT","g":26,"v":0.068},{"p":"d","s":"NPT","g":29,"v":0.07},{"p":"d","s":"NPT","g":32,"v":0.068},{"p":"d","s":"NPT","g":35,"v":0.066},{"p":"d","s":"NPT","g":38,"v":0.065},{"p":"d","s":"NPT","g":41,"v":0.065},{"p":"d","s":"NPT","g":44,"v":0.063},{"p":"d","s":"NPT","g":47,"v":0.062},{"p":"d","s":"NPT","g":50,"v":0.06},
{"p":"d","s":"OWT","g":1,"v":0.085},{"p":"d","s":"OWT","g":3,"v":0.075},{"p":"d","s":"OWT","g":5,"v":0.07},{"p":"d","s":"OWT","g":7,"v":0.07},{"p":"d","s":"OWT","g":9,"v":0.065},{"p":"d","s":"OWT","g":12,"v":0.064},{"p":"d","s":"OWT","g":15,"v":0.065},{"p":"d","s":"OWT","g":18,"v":0.063},{"p":"d","s":"OWT","g":21,"v":0.06},{"p":"d","s":"OWT","g":24,"v":0.06},{"p":"d","s":"OWT","g":27,"v":0.057},{"p":"d","s":"OWT","g":30,"v":0.06},{"p":"d","s":"OWT","g":33,"v":0.058},{"p":"d","s":"OWT","g":36,"v":0.058},{"p":"d","s":"OWT","g":39,"v":0.058},{"p":"d","s":"OWT","g":42,"v":0.057},{"p":"d","s":"OWT","g":45,"v":0.055},{"p":"d","s":"OWT","g":48,"v":0.057},{"p":"d","s":"OWT","g":50,"v":0.058},
{"p":"d","s":"WKR","g":1,"v":0.092},{"p":"d","s":"WKR","g":3,"v":0.088},{"p":"d","s":"WKR","g":5,"v":0.085},{"p":"d","s":"WKR","g":8,"v":0.083},{"p":"d","s":"WKR","g":11,"v":0.08},{"p":"d","s":"WKR","g":14,"v":0.078},{"p":"d","s":"WKR","g":17,"v":0.075},{"p":"d","s":"WKR","g":20,"v":0.075},{"p":"d","s":"WKR","g":23,"v":0.072},{"p":"d","s":"WKR","g":26,"v":0.074},{"p":"d","s":"WKR","g":29,"v":0.075},{"p":"d","s":"WKR","g":32,"v":0.075},{"p":"d","s":"WKR","g":35,"v":0.074},{"p":"d","s":"WKR","g":38,"v":0.073},{"p":"d","s":"WKR","g":41,"v":0.075},{"p":"d","s":"WKR","g":44,"v":0.073},{"p":"d","s":"WKR","g":47,"v":0.071},{"p":"d","s":"WKR","g":50,"v":0.072},
{"p":"d","s":"NOR","g":1,"v":0.093},{"p":"d","s":"NOR","g":3,"v":0.09},{"p":"d","s":"NOR","g":5,"v":0.087},{"p":"d","s":"NOR","g":8,"v":0.085},{"p":"d","s":"NOR","g":11,"v":0.082},{"p":"d","s":"NOR","g":14,"v":0.082},{"p":"d","s":"NOR","g":17,"v":0.078},{"p":"d","s":"NOR","g":20,"v":0.078},{"p":"d","s":"NOR","g":23,"v":0.075},{"p":"d","s":"NOR","g":26,"v":0.076},{"p":"d","s":"NOR","g":29,"v":0.075},{"p":"d","s":"NOR","g":32,"v":0.072},{"p":"d","s":"NOR","g":35,"v":0.07},{"p":"d","s":"NOR","g":38,"v":0.068},{"p":"d","s":"NOR","g":41,"v":0.066},{"p":"d","s":"NOR","g":44,"v":0.064},{"p":"d","s":"NOR","g":47,"v":0.061},{"p":"d","s":"NOR","g":50,"v":0.06},
{"p":"d","s":"W","g":1,"v":0.095},{"p":"d","s":"W","g":3,"v":0.097},{"p":"d","s":"W","g":5,"v":0.09},{"p":"d","s":"W","g":7,"v":0.09},{"p":"d","s":"W","g":10,"v":0.083},{"p":"d","s":"W","g":13,"v":0.082},{"p":"d","s":"W","g":16,"v":0.082},{"p":"d","s":"W","g":19,"v":0.082},{"p":"d","s":"W","g":22,"v":0.078},{"p":"d","s":"W","g":25,"v":0.08},{"p":"d","s":"W","g":28,"v":0.083},{"p":"d","s":"W","g":31,"v":0.08},{"p":"d","s":"W","g":34,"v":0.078},{"p":"d","s":"W","g":37,"v":0.076},{"p":"d","s":"W","g":40,"v":0.075},{"p":"d","s":"W","g":43,"v":0.078},{"p":"d","s":"W","g":46,"v":0.08},{"p":"d","s":"W","g":50,"v":0.078},
{"p":"d","s":"TIS","g":1,"v":0.087},{"p":"d","s":"TIS","g":3,"v":0.083},{"p":"d","s":"TIS","g":5,"v":0.083},{"p":"d","s":"TIS","g":7,"v":0.07},{"p":"d","s":"TIS","g":9,"v":0.072},{"p":"d","s":"TIS","g":11,"v":0.073},{"p":"d","s":"TIS","g":14,"v":0.075},{"p":"d","s":"TIS","g":17,"v":0.075},{"p":"d","s":"TIS","g":20,"v":0.074},{"p":"d","s":"TIS","g":23,"v":0.072},{"p":"d","s":"TIS","g":25,"v":0.069},{"p":"d","s":"TIS","g":28,"v":0.075},{"p":"d","s":"TIS","g":31,"v":0.078},{"p":"d","s":"TIS","g":34,"v":0.08},{"p":"d","s":"TIS","g":37,"v":0.078},{"p":"d","s":"TIS","g":40,"v":0.077},{"p":"d","s":"TIS","g":43,"v":0.08},{"p":"d","s":"TIS","g":46,"v":0.082},{"p":"d","s":"TIS","g":48,"v":0.078},{"p":"d","s":"TIS","g":50,"v":0.079},
{"p":"e","s":"NIQ","g":1,"v":0.098},{"p":"e","s":"NIQ","g":2,"v":0.115},{"p":"e","s":"NIQ","g":3,"v":0.132},{"p":"e","s":"NIQ","g":5,"v":0.13},{"p":"e","s":"NIQ","g":6,"v":0.125},{"p":"e","s":"NIQ","g":8,"v":0.135},{"p":"e","s":"NIQ","g":10,"v":0.13},{"p":"e","s":"NIQ","g":12,"v":0.132},{"p":"e","s":"NIQ","g":14,"v":0.138},{"p":"e","s":"NIQ","g":16,"v":0.14},{"p":"e","s":"NIQ","g":18,"v":0.145},{"p":"e","s":"NIQ","g":20,"v":0.14},{"p":"e","s":"NIQ","g":22,"v":0.143},{"p":"e","s":"NIQ","g":24,"v":0.138},{"p":"e","s":"NIQ","g":26,"v":0.14},{"p":"e","s":"NIQ","g":28,"v":0.135},{"p":"e","s":"NIQ","g":30,"v":0.135},{"p":"e","s":"NIQ","g":33,"v":0.134},{"p":"e","s":"NIQ","g":36,"v":0.133},{"p":"e","s":"NIQ","g":39,"v":0.132},{"p":"e","s":"NIQ","g":42,"v":0.13},{"p":"e","s":"NIQ","g":45,"v":0.13},{"p":"e","s":"NIQ","g":48,"v":0.131},{"p":"e","s":"NIQ","g":50,"v":0.132},
{"p":"e","s":"WIQ","g":1,"v":0.133},{"p":"e","s":"WIQ","g":3,"v":0.125},{"p":"e","s":"WIQ","g":5,"v":0.12},{"p":"e","s":"WIQ","g":7,"v":0.123},{"p":"e","s":"WIQ","g":9,"v":0.118},{"p":"e","s":"WIQ","g":11,"v":0.12},{"p":"e","s":"WIQ","g":13,"v":0.113},{"p":"e","s":"WIQ","g":15,"v":0.105},{"p":"e","s":"WIQ","g":18,"v":0.1},{"p":"e","s":"WIQ","g":20,"v":0.104},{"p":"e","s":"WIQ","g":23,"v":0.106},{"p":"e","s":"WIQ","g":26,"v":0.1},{"p":"e","s":"WIQ","g":29,"v":0.1},{"p":"e","s":"WIQ","g":32,"v":0.098},{"p":"e","s":"WIQ","g":35,"v":0.095},{"p":"e","s":"WIQ","g":38,"v":0.093},{"p":"e","s":"WIQ","g":41,"v":0.09},{"p":"e","s":"WIQ","g":44,"v":0.088},{"p":"e","s":"WIQ","g":47,"v":0.09},{"p":"e","s":"WIQ","g":50,"v":0.09},
{"p":"e","s":"MWT","g":1,"v":0.145},{"p":"e","s":"MWT","g":2,"v":0.17},{"p":"e","s":"MWT","g":3,"v":0.185},{"p":"e","s":"MWT","g":4,"v":0.2},{"p":"e","s":"MWT","g":5,"v":0.212},{"p":"e","s":"MWT","g":7,"v":0.218},{"p":"e","s":"MWT","g":9,"v":0.235},{"p":"e","s":"MWT","g":11,"v":0.248},{"p":"e","s":"MWT","g":13,"v":0.255},{"p":"e","s":"MWT","g":15,"v":0.265},{"p":"e","s":"MWT","g":17,"v":0.265},{"p":"e","s":"MWT","g":19,"v":0.27},{"p":"e","s":"MWT","g":21,"v":0.278},{"p":"e","s":"MWT","g":23,"v":0.28},{"p":"e","s":"MWT","g":25,"v":0.29},{"p":"e","s":"MWT","g":27,"v":0.29},{"p":"e","s":"MWT","g":29,"v":0.295},{"p":"e","s":"MWT","g":31,"v":0.3},{"p":"e","s":"MWT","g":33,"v":0.3},{"p":"e","s":"MWT","g":35,"v":0.305},{"p":"e","s":"MWT","g":37,"v":0.305},{"p":"e","s":"MWT","g":39,"v":0.305},{"p":"e","s":"MWT","g":41,"v":0.31},{"p":"e","s":"MWT","g":43,"v":0.31},{"p":"e","s":"MWT","g":45,"v":0.315},{"p":"e","s":"MWT","g":47,"v":0.31},{"p":"e","s":"MWT","g":49,"v":0.318},{"p":"e","s":"MWT","g":50,"v":0.322},
{"p":"e","s":"PT","g":1,"v":0.09},{"p":"e","s":"PT","g":2,"v":0.098},{"p":"e","s":"PT","g":4,"v":0.1},{"p":"e","s":"PT","g":6,"v":0.095},{"p":"e","s":"PT","g":8,"v":0.105},{"p":"e","s":"PT","g":10,"v":0.1},{"p":"e","s":"PT","g":12,"v":0.098},{"p":"e","s":"PT","g":14,"v":0.108},{"p":"e","s":"PT","g":16,"v":0.105},{"p":"e","s":"PT","g":18,"v":0.102},{"p":"e","s":"PT","g":20,"v":0.102},{"p":"e","s":"PT","g":23,"v":0.106},{"p":"e","s":"PT","g":26,"v":0.11},{"p":"e","s":"PT","g":29,"v":0.11},{"p":"e","s":"PT","g":32,"v":0.112},{"p":"e","s":"PT","g":35,"v":0.112},{"p":"e","s":"PT","g":38,"v":0.115},{"p":"e","s":"PT","g":41,"v":0.117},{"p":"e","s":"PT","g":44,"v":0.117},{"p":"e","s":"PT","g":47,"v":0.118},{"p":"e","s":"PT","g":50,"v":0.122},
{"p":"e","s":"NPT","g":1,"v":0.088},{"p":"e","s":"NPT","g":3,"v":0.072},{"p":"e","s":"NPT","g":5,"v":0.065},{"p":"e","s":"NPT","g":8,"v":0.058},{"p":"e","s":"NPT","g":11,"v":0.048},{"p":"e","s":"NPT","g":14,"v":0.045},{"p":"e","s":"NPT","g":17,"v":0.04},{"p":"e","s":"NPT","g":20,"v":0.037},{"p":"e","s":"NPT","g":23,"v":0.035},{"p":"e","s":"NPT","g":26,"v":0.033},{"p":"e","s":"NPT","g":29,"v":0.032},{"p":"e","s":"NPT","g":32,"v":0.03},{"p":"e","s":"NPT","g":35,"v":0.028},{"p":"e","s":"NPT","g":38,"v":0.028},{"p":"e","s":"NPT","g":41,"v":0.025},{"p":"e","s":"NPT","g":44,"v":0.024},{"p":"e","s":"NPT","g":47,"v":0.023},{"p":"e","s":"NPT","g":50,"v":0.022},
{"p":"e","s":"OWT","g":1,"v":0.085},{"p":"e","s":"OWT","g":4,"v":0.078},{"p":"e","s":"OWT","g":7,"v":0.07},{"p":"e","s":"OWT","g":10,"v":0.067},{"p":"e","s":"OWT","g":13,"v":0.065},{"p":"e","s":"OWT","g":16,"v":0.062},{"p":"e","s":"OWT","g":19,"v":0.058},{"p":"e","s":"OWT","g":22,"v":0.057},{"p":"e","s":"OWT","g":25,"v":0.057},{"p":"e","s":"OWT","g":28,"v":0.055},{"p":"e","s":"OWT","g":31,"v":0.055},{"p":"e","s":"OWT","g":34,"v":0.055},{"p":"e","s":"OWT","g":37,"v":0.052},{"p":"e","s":"OWT","g":40,"v":0.053},{"p":"e","s":"OWT","g":43,"v":0.052},{"p":"e","s":"OWT","g":46,"v":0.052},{"p":"e","s":"OWT","g":50,"v":0.05},
{"p":"e","s":"WKR","g":1,"v":0.09},{"p":"e","s":"WKR","g":3,"v":0.088},{"p":"e","s":"WKR","g":5,"v":0.085},{"p":"e","s":"WKR","g":8,"v":0.08},{"p":"e","s":"WKR","g":11,"v":0.08},{"p":"e","s":"WKR","g":14,"v":0.085},{"p":"e","s":"WKR","g":17,"v":0.083},{"p":"e","s":"WKR","g":20,"v":0.082},{"p":"e","s":"WKR","g":23,"v":0.083},{"p":"e","s":"WKR","g":26,"v":0.08},{"p":"e","s":"WKR","g":29,"v":0.078},{"p":"e","s":"WKR","g":32,"v":0.08},{"p":"e","s":"WKR","g":35,"v":0.08},{"p":"e","s":"WKR","g":38,"v":0.085},{"p":"e","s":"WKR","g":41,"v":0.085},{"p":"e","s":"WKR","g":44,"v":0.082},{"p":"e","s":"WKR","g":47,"v":0.083},{"p":"e","s":"WKR","g":50,"v":0.08},
{"p":"e","s":"NOR","g":1,"v":0.085},{"p":"e","s":"NOR","g":3,"v":0.082},{"p":"e","s":"NOR","g":5,"v":0.078},{"p":"e","s":"NOR","g":7,"v":0.075},{"p":"e","s":"NOR","g":10,"v":0.072},{"p":"e","s":"NOR","g":13,"v":0.068},{"p":"e","s":"NOR","g":16,"v":0.063},{"p":"e","s":"NOR","g":19,"v":0.065},{"p":"e","s":"NOR","g":22,"v":0.062},{"p":"e","s":"NOR","g":25,"v":0.06},{"p":"e","s":"NOR","g":28,"v":0.058},{"p":"e","s":"NOR","g":31,"v":0.06},{"p":"e","s":"NOR","g":34,"v":0.056},{"p":"e","s":"NOR","g":37,"v":0.053},{"p":"e","s":"NOR","g":40,"v":0.055},{"p":"e","s":"NOR","g":43,"v":0.053},{"p":"e","s":"NOR","g":46,"v":0.052},{"p":"e","s":"NOR","g":50,"v":0.052},
{"p":"e","s":"W","g":1,"v":0.096},{"p":"e","s":"W","g":3,"v":0.092},{"p":"e","s":"W","g":5,"v":0.09},{"p":"e","s":"W","g":7,"v":0.088},{"p":"e","s":"W","g":9,"v":0.09},{"p":"e","s":"W","g":11,"v":0.085},{"p":"e","s":"W","g":13,"v":0.08},{"p":"e","s":"W","g":16,"v":0.078},{"p":"e","s":"W","g":20,"v":0.078},{"p":"e","s":"W","g":24,"v":0.08},{"p":"e","s":"W","g":28,"v":0.078},{"p":"e","s":"W","g":32,"v":0.075},{"p":"e","s":"W","g":36,"v":0.075},{"p":"e","s":"W","g":40,"v":0.082},{"p":"e","s":"W","g":43,"v":0.078},{"p":"e","s":"W","g":46,"v":0.075},{"p":"e","s":"W","g":50,"v":0.073},
{"p":"e","s":"TIS","g":1,"v":0.092},{"p":"e","s":"TIS","g":3,"v":0.085},{"p":"e","s":"TIS","g":5,"v":0.078},{"p":"e","s":"TIS","g":7,"v":0.075},{"p":"e","s":"TIS","g":9,"v":0.068},{"p":"e","s":"TIS","g":10,"v":0.062},{"p":"e","s":"TIS","g":12,"v":0.068},{"p":"e","s":"TIS","g":14,"v":0.066},{"p":"e","s":"TIS","g":16,"v":0.064},{"p":"e","s":"TIS","g":19,"v":0.066},{"p":"e","s":"TIS","g":22,"v":0.068},{"p":"e","s":"TIS","g":25,"v":0.065},{"p":"e","s":"TIS","g":27,"v":0.062},{"p":"e","s":"TIS","g":30,"v":0.064},{"p":"e","s":"TIS","g":33,"v":0.063},{"p":"e","s":"TIS","g":36,"v":0.062},{"p":"e","s":"TIS","g":40,"v":0.063},{"p":"e","s":"TIS","g":43,"v":0.06},{"p":"e","s":"TIS","g":46,"v":0.057},{"p":"e","s":"TIS","g":50,"v":0.055},
{"p":"f","s":"NIQ","g":1,"v":0.102},{"p":"f","s":"NIQ","g":2,"v":0.125},{"p":"f","s":"NIQ","g":3,"v":0.147},{"p":"f","s":"NIQ","g":4,"v":0.132},{"p":"f","s":"NIQ","g":6,"v":0.135},{"p":"f","s":"NIQ","g":8,"v":0.137},{"p":"f","s":"NIQ","g":10,"v":0.135},{"p":"f","s":"NIQ","g":12,"v":0.132},{"p":"f","s":"NIQ","g":14,"v":0.135},{"p":"f","s":"NIQ","g":16,"v":0.135},{"p":"f","s":"NIQ","g":18,"v":0.14},{"p":"f","s":"NIQ","g":20,"v":0.14},{"p":"f","s":"NIQ","g":22,"v":0.142},{"p":"f","s":"NIQ","g":24,"v":0.143},{"p":"f","s":"NIQ","g":26,"v":0.142},{"p":"f","s":"NIQ","g":28,"v":0.143},{"p":"f","s":"NIQ","g":30,"v":0.145},{"p":"f","s":"NIQ","g":32,"v":0.142},{"p":"f","s":"NIQ","g":34,"v":0.143},{"p":"f","s":"NIQ","g":36,"v":0.143},{"p":"f","s":"NIQ","g":38,"v":0.145},{"p":"f","s":"NIQ","g":40,"v":0.145},{"p":"f","s":"NIQ","g":42,"v":0.147},{"p":"f","s":"NIQ","g":44,"v":0.148},{"p":"f","s":"NIQ","g":46,"v":0.148},{"p":"f","s":"NIQ","g":48,"v":0.152},{"p":"f","s":"NIQ","g":50,"v":0.155},
{"p":"f","s":"WIQ","g":1,"v":0.12},{"p":"f","s":"WIQ","g":3,"v":0.128},{"p":"f","s":"WIQ","g":5,"v":0.127},{"p":"f","s":"WIQ","g":7,"v":0.122},{"p":"f","s":"WIQ","g":9,"v":0.11},{"p":"f","s":"WIQ","g":11,"v":0.105},{"p":"f","s":"WIQ","g":13,"v":0.098},{"p":"f","s":"WIQ","g":15,"v":0.1},{"p":"f","s":"WIQ","g":17,"v":0.1},{"p":"f","s":"WIQ","g":19,"v":0.097},{"p":"f","s":"WIQ","g":21,"v":0.098},{"p":"f","s":"WIQ","g":23,"v":0.095},{"p":"f","s":"WIQ","g":25,"v":0.095},{"p":"f","s":"WIQ","g":28,"v":0.098},{"p":"f","s":"WIQ","g":31,"v":0.097},{"p":"f","s":"WIQ","g":34,"v":0.093},{"p":"f","s":"WIQ","g":37,"v":0.092},{"p":"f","s":"WIQ","g":40,"v":0.09},{"p":"f","s":"WIQ","g":43,"v":0.093},{"p":"f","s":"WIQ","g":46,"v":0.09},{"p":"f","s":"WIQ","g":50,"v":0.087},
{"p":"f","s":"MWT","g":1,"v":0.145},{"p":"f","s":"MWT","g":2,"v":0.165},{"p":"f","s":"MWT","g":3,"v":0.18},{"p":"f","s":"MWT","g":4,"v":0.19},{"p":"f","s":"MWT","g":5,"v":0.2},{"p":"f","s":"MWT","g":7,"v":0.215},{"p":"f","s":"MWT","g":9,"v":0.228},{"p":"f","s":"MWT","g":11,"v":0.24},{"p":"f","s":"MWT","g":13,"v":0.25},{"p":"f","s":"MWT","g":15,"v":0.26},{"p":"f","s":"MWT","g":17,"v":0.265},{"p":"f","s":"MWT","g":19,"v":0.275},{"p":"f","s":"MWT","g":21,"v":0.28},{"p":"f","s":"MWT","g":23,"v":0.285},{"p":"f","s":"MWT","g":25,"v":0.295},{"p":"f","s":"MWT","g":27,"v":0.3},{"p":"f","s":"MWT","g":29,"v":0.303},{"p":"f","s":"MWT","g":31,"v":0.308},{"p":"f","s":"MWT","g":33,"v":0.313},{"p":"f","s":"MWT","g":35,"v":0.316},{"p":"f","s":"MWT","g":37,"v":0.318},{"p":"f","s":"MWT","g":39,"v":0.32},{"p":"f","s":"MWT","g":41,"v":0.322},{"p":"f","s":"MWT","g":43,"v":0.325},{"p":"f","s":"MWT","g":45,"v":0.326},{"p":"f","s":"MWT","g":47,"v":0.327},{"p":"f","s":"MWT","g":49,"v":0.326},{"p":"f","s":"MWT","g":50,"v":0.324},
{"p":"f","s":"PT","g":1,"v":0.092},{"p":"f","s":"PT","g":3,"v":0.095},{"p":"f","s":"PT","g":5,"v":0.093},{"p":"f","s":"PT","g":8,"v":0.097},{"p":"f","s":"PT","g":11,"v":0.095},{"p":"f","s":"PT","g":14,"v":0.095},{"p":"f","s":"PT","g":17,"v":0.093},{"p":"f","s":"PT","g":20,"v":0.09},{"p":"f","s":"PT","g":23,"v":0.093},{"p":"f","s":"PT","g":26,"v":0.09},{"p":"f","s":"PT","g":29,"v":0.09},{"p":"f","s":"PT","g":32,"v":0.09},{"p":"f","s":"PT","g":35,"v":0.088},{"p":"f","s":"PT","g":38,"v":0.088},{"p":"f","s":"PT","g":41,"v":0.088},{"p":"f","s":"PT","g":44,"v":0.09},{"p":"f","s":"PT","g":47,"v":0.09},{"p":"f","s":"PT","g":50,"v":0.095},
{"p":"f","s":"NPT","g":1,"v":0.085},{"p":"f","s":"NPT","g":3,"v":0.075},{"p":"f","s":"NPT","g":5,"v":0.07},{"p":"f","s":"NPT","g":7,"v":0.065},{"p":"f","s":"NPT","g":9,"v":0.06},{"p":"f","s":"NPT","g":11,"v":0.055},{"p":"f","s":"NPT","g":13,"v":0.05},{"p":"f","s":"NPT","g":15,"v":0.046},{"p":"f","s":"NPT","g":17,"v":0.043},{"p":"f","s":"NPT","g":19,"v":0.04},{"p":"f","s":"NPT","g":21,"v":0.042},{"p":"f","s":"NPT","g":23,"v":0.04},{"p":"f","s":"NPT","g":25,"v":0.04},{"p":"f","s":"NPT","g":28,"v":0.038},{"p":"f","s":"NPT","g":31,"v":0.04},{"p":"f","s":"NPT","g":34,"v":0.037},{"p":"f","s":"NPT","g":37,"v":0.036},{"p":"f","s":"NPT","g":40,"v":0.036},{"p":"f","s":"NPT","g":43,"v":0.034},{"p":"f","s":"NPT","g":46,"v":0.034},{"p":"f","s":"NPT","g":48,"v":0.033},{"p":"f","s":"NPT","g":50,"v":0.033},
{"p":"f","s":"OWT","g":1,"v":0.085},{"p":"f","s":"OWT","g":3,"v":0.08},{"p":"f","s":"OWT","g":5,"v":0.075},{"p":"f","s":"OWT","g":8,"v":0.07},{"p":"f","s":"OWT","g":11,"v":0.065},{"p":"f","s":"OWT","g":14,"v":0.063},{"p":"f","s":"OWT","g":17,"v":0.063},{"p":"f","s":"OWT","g":20,"v":0.063},{"p":"f","s":"OWT","g":23,"v":0.062},{"p":"f","s":"OWT","g":26,"v":0.063},{"p":"f","s":"OWT","g":29,"v":0.063},{"p":"f","s":"OWT","g":32,"v":0.06},{"p":"f","s":"OWT","g":35,"v":0.06},{"p":"f","s":"OWT","g":38,"v":0.062},{"p":"f","s":"OWT","g":41,"v":0.06},{"p":"f","s":"OWT","g":44,"v":0.058},{"p":"f","s":"OWT","g":47,"v":0.057},{"p":"f","s":"OWT","g":50,"v":0.058},
{"p":"f","s":"WKR","g":1,"v":0.09},{"p":"f","s":"WKR","g":3,"v":0.085},{"p":"f","s":"WKR","g":5,"v":0.078},{"p":"f","s":"WKR","g":8,"v":0.072},{"p":"f","s":"WKR","g":11,"v":0.067},{"p":"f","s":"WKR","g":14,"v":0.072},{"p":"f","s":"WKR","g":17,"v":0.075},{"p":"f","s":"WKR","g":20,"v":0.07},{"p":"f","s":"WKR","g":23,"v":0.07},{"p":"f","s":"WKR","g":26,"v":0.068},{"p":"f","s":"WKR","g":29,"v":0.07},{"p":"f","s":"WKR","g":32,"v":0.066},{"p":"f","s":"WKR","g":35,"v":0.065},{"p":"f","s":"WKR","g":38,"v":0.066},{"p":"f","s":"WKR","g":41,"v":0.065},{"p":"f","s":"WKR","g":44,"v":0.064},{"p":"f","s":"WKR","g":47,"v":0.065},{"p":"f","s":"WKR","g":50,"v":0.07},
{"p":"f","s":"NOR","g":1,"v":0.088},{"p":"f","s":"NOR","g":3,"v":0.083},{"p":"f","s":"NOR","g":5,"v":0.078},{"p":"f","s":"NOR","g":7,"v":0.075},{"p":"f","s":"NOR","g":9,"v":0.068},{"p":"f","s":"NOR","g":11,"v":0.063},{"p":"f","s":"NOR","g":13,"v":0.055},{"p":"f","s":"NOR","g":15,"v":0.052},{"p":"f","s":"NOR","g":17,"v":0.05},{"p":"f","s":"NOR","g":19,"v":0.047},{"p":"f","s":"NOR","g":21,"v":0.05},{"p":"f","s":"NOR","g":23,"v":0.045},{"p":"f","s":"NOR","g":25,"v":0.045},{"p":"f","s":"NOR","g":28,"v":0.043},{"p":"f","s":"NOR","g":31,"v":0.043},{"p":"f","s":"NOR","g":34,"v":0.042},{"p":"f","s":"NOR","g":37,"v":0.04},{"p":"f","s":"NOR","g":40,"v":0.038},{"p":"f","s":"NOR","g":43,"v":0.038},{"p":"f","s":"NOR","g":46,"v":0.037},{"p":"f","s":"NOR","g":48,"v":0.036},{"p":"f","s":"NOR","g":50,"v":0.034},
{"p":"f","s":"W","g":1,"v":0.09},{"p":"f","s":"W","g":3,"v":0.095},{"p":"f","s":"W","g":5,"v":0.085},{"p":"f","s":"W","g":8,"v":0.09},{"p":"f","s":"W","g":11,"v":0.098},{"p":"f","s":"W","g":14,"v":0.1},{"p":"f","s":"W","g":17,"v":0.1},{"p":"f","s":"W","g":20,"v":0.1},{"p":"f","s":"W","g":23,"v":0.098},{"p":"f","s":"W","g":26,"v":0.095},{"p":"f","s":"W","g":29,"v":0.096},{"p":"f","s":"W","g":32,"v":0.095},{"p":"f","s":"W","g":35,"v":0.094},{"p":"f","s":"W","g":38,"v":0.092},{"p":"f","s":"W","g":41,"v":0.09},{"p":"f","s":"W","g":44,"v":0.09},{"p":"f","s":"W","g":47,"v":0.088},{"p":"f","s":"W","g":50,"v":0.085},
{"p":"f","s":"TIS","g":1,"v":0.09},{"p":"f","s":"TIS","g":3,"v":0.083},{"p":"f","s":"TIS","g":5,"v":0.075},{"p":"f","s":"TIS","g":7,"v":0.07},{"p":"f","s":"TIS","g":9,"v":0.072},{"p":"f","s":"TIS","g":11,"v":0.07},{"p":"f","s":"TIS","g":13,"v":0.072},{"p":"f","s":"TIS","g":15,"v":0.073},{"p":"f","s":"TIS","g":18,"v":0.07},{"p":"f","s":"TIS","g":21,"v":0.07},{"p":"f","s":"TIS","g":24,"v":0.068},{"p":"f","s":"TIS","g":27,"v":0.068},{"p":"f","s":"TIS","g":30,"v":0.066},{"p":"f","s":"TIS","g":33,"v":0.065},{"p":"f","s":"TIS","g":36,"v":0.066},{"p":"f","s":"TIS","g":38,"v":0.07},{"p":"f","s":"TIS","g":40,"v":0.067},{"p":"f","s":"TIS","g":43,"v":0.065},{"p":"f","s":"TIS","g":46,"v":0.066},{"p":"f","s":"TIS","g":50,"v":0.066}
]},
"hconcat":[{
"title":{"text":"Generation","orient":"bottom","fontSize":21,"fontWeight":"bold","font":"DejaVu Sans","color":"black","anchor":"middle","offset":11},
"facet":{"field":"p","type":"nominal","sort":["a","b","c","d","e","f"],"header":{"title":null,"labelExpr":"datum.value=='a'?'<Fmax, 0.85>':datum.value=='b'?'<Fmean, 0.85>':datum.value=='c'?'<WFmean, 0.85>':datum.value=='d'?'<Fmax, 0.95>':datum.value=='e'?'<Fmean, 0.95>':'<WFmean, 0.95>'","labelFont":"DejaVu Sans","labelFontSize":21,"labelFontWeight":"bold","labelColor":"black","labelPadding":5}},
"columns":3,
"spacing":{"row":28,"column":33},
"resolve":{"scale":{"y":"independent"},"axis":{"x":"independent","y":"independent"}},
"spec":{
"width":229,"height":198,
"mark":{"type":"line","strokeWidth":2},
"encoding":{
"x":{"field":"g","type":"quantitative","scale":{"nice":false,"zero":false,"padding":11.5},"axis":{"values":[0,20,40],"title":null}},
"y":{"field":"v","type":"quantitative","scale":{"nice":false,"zero":false,"padding":10},"axis":{"values":[0.1,0.2,0.3],"format":".1f","title":null}},
"color":{"field":"s","type":"nominal","title":null,"scale":{"domain":["NIQ","MWT","NPT","WKR","W","WIQ","PT","OWT","NOR","TIS"],"range":["#1f77b4","#2ca02c","#9467bd","#e377c2","#bcbd22","#ff7f0e","#d62728","#8c564b","#7f7f7f","#17becf"]}},
"strokeDash":{"field":"s","type":"nominal","title":null,"scale":{"domain":["NIQ","MWT","NPT","WKR","W","WIQ","PT","OWT","NOR","TIS"],"range":[[1,0],[2.5,5],[2.5,5],[12,3.5,2.5,3.5],[12,3.5,2.5,3.5],[8,4],[12,3.5,2.5,3.5],[8,4],[1,0],[1,0]]}}
}
}
}]
}
